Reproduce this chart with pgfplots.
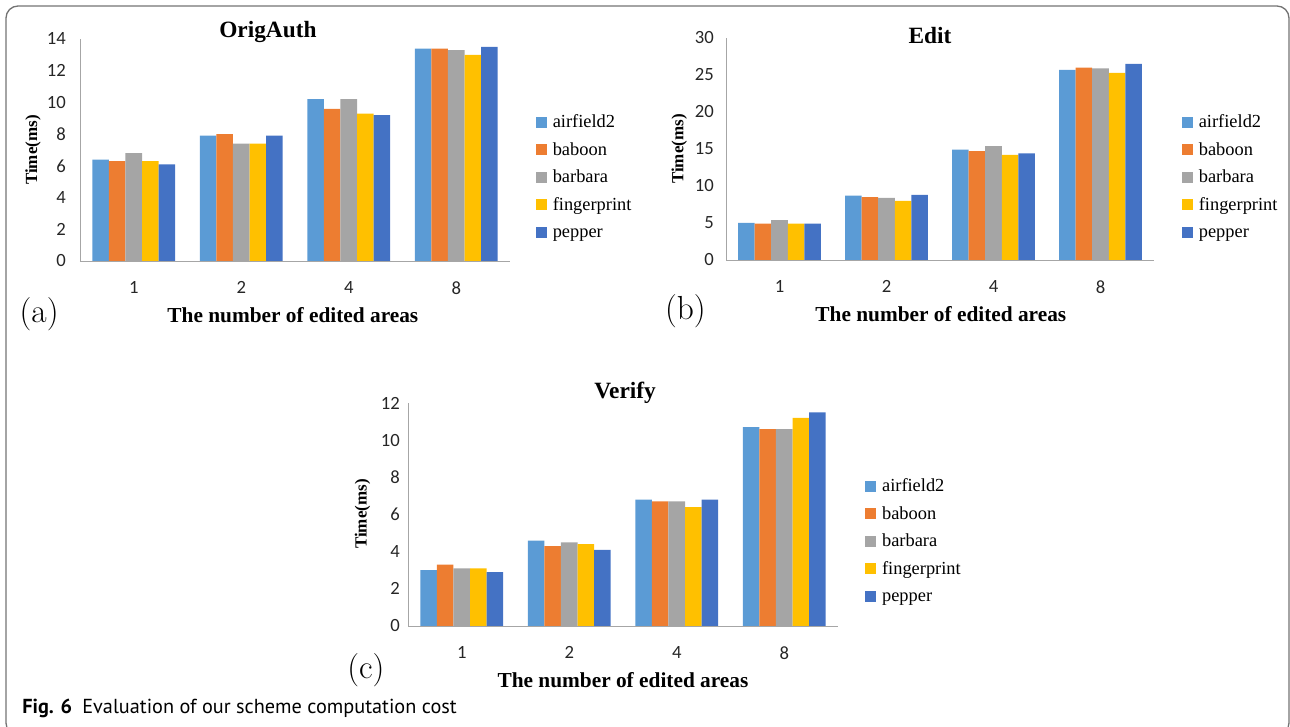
\documentclass[border=0pt]{standalone}
\usepackage{pgfplots}
\pgfplotsset{compat=1.18}
\usepackage{fontspec}
\setmainfont{Liberation Serif}
\newfontfamily\carlito{Carlito}
\newfontfamily\ptsans{PT Sans}
\newfontfamily\lmfont{Latin Modern Roman}
\definecolor{cA}{HTML}{5B9BD5}
\definecolor{cB}{HTML}{ED7D31}
\definecolor{cC}{HTML}{A5A5A5}
\definecolor{cD}{HTML}{FFC000}
\definecolor{cE}{HTML}{4472C4}
\pgfplotsset{
 every axis title shift=0pt,
 mybar/.style={
  scale only axis, ybar=0pt, bar width=12.4pt, clip=false,
  xmin=-0.5, xmax=3.5, ymin=0,
  xtick={0,1,2,3}, xticklabels={1,2,4,8},
  axis lines*=left, axis line style={-, draw=black!35, line width=0.6pt},
  major tick length=0pt,
  /pgf/number format/assume math mode=true,
  tick label style={font=\carlito\fontsize{14}{14}\selectfont, text=black!85},
  yticklabel style={inner sep=0pt, xshift=-9pt},
  xticklabel style={inner sep=0pt, yshift=-15pt},
  title style={font=\bfseries\fontsize{17.5}{17.5}\selectfont, anchor=base, inner sep=0pt},
  xlabel style={font=\bfseries\fontsize{16}{16}\selectfont, anchor=base, inner sep=0pt},
  ylabel style={font=\bfseries\fontsize{12.75}{12.75}\selectfont, anchor=center, inner sep=0pt},
  legend style={draw=none, fill=none, inner sep=0pt, outer sep=0pt, anchor=west, row sep=8.4pt,
    font=\fontsize{13.8}{13.8}\selectfont, nodes={inner sep=0pt, text height=9.7pt, text depth=2.5pt}},
  legend cell align=left,
  legend image code/.code={\fill[##1] (0pt,-3.5pt) rectangle (8.25pt,4.75pt); \path (12.75pt,0pt);},
  every axis plot/.append style={draw=none},
 }
}
\begin{document}
\begin{tikzpicture}
\useasboundingbox (0,0) rectangle (967.5pt,545.25pt);
\begin{scope}
\clip (0,0) rectangle (967.5pt,545.25pt);
\draw[rounded corners=9pt, black!55, line width=1pt] (4.5pt,-6pt) rectangle (966.75pt,540.75pt);
\end{scope}

% (a) OrigAuth
\begin{axis}[mybar, at={(60pt,349.5pt)}, anchor=south west, width=322.5pt, height=166.5pt,
  ymax=14, ytick={0,2,...,14}, yticklabel style={xshift=-1.5pt},
  title={OrigAuth}, title style={at={(axis description cs:0.437,1.0045)}},
  xlabel={The number of edited areas}, xlabel style={at={(axis description cs:0.495,-0.275)}},
  ylabel={Time(ms)}, ylabel style={at={(axis description cs:-0.109,0.5)}},
  legend style={at={(axis description cs:1.060,0.374)}}]
\addplot[fill=cA] coordinates {(0,6.4) (1,7.9) (2,10.2) (3,13.4)};
\addplot[fill=cB] coordinates {(0,6.3) (1,8.0) (2,9.6) (3,13.4)};
\addplot[fill=cC] coordinates {(0,6.8) (1,7.4) (2,10.2) (3,13.3)};
\addplot[fill=cD] coordinates {(0,6.3) (1,7.4) (2,9.3) (3,13.0)};
\addplot[fill=cE] coordinates {(0,6.1) (1,7.9) (2,9.2) (3,13.5)};
\legend{airfield2,baboon,barbara,fingerprint,pepper}
\node[font=\lmfont\fontsize{25}{25}\selectfont, inner sep=0pt] at (axis description cs:-0.095,-0.239) {(a)};
\end{axis}

% (b) Edit
\begin{axis}[mybar, at={(544.5pt,350.25pt)}, anchor=south west, width=321pt, height=166.5pt,
  ymax=30, ytick={0,5,...,30},
  title={Edit}, title style={at={(axis description cs:0.4766,0.977)}},
  xlabel={The number of edited areas}, xlabel style={at={(axis description cs:0.502,-0.275)}},
  ylabel={Time(ms)}, ylabel style={at={(axis description cs:-0.109,0.5)}},
  legend style={at={(axis description cs:1.065,0.369)}}]
\addplot[fill=cA] coordinates {(0,5.0) (1,8.7) (2,14.9) (3,25.7)};
\addplot[fill=cB] coordinates {(0,4.9) (1,8.5) (2,14.7) (3,26.0)};
\addplot[fill=cC] coordinates {(0,5.4) (1,8.4) (2,15.4) (3,25.9)};
\addplot[fill=cD] coordinates {(0,4.9) (1,8.0) (2,14.2) (3,25.3)};
\addplot[fill=cE] coordinates {(0,4.9) (1,8.8) (2,14.4) (3,26.5)};
\legend{airfield2,baboon,barbara,fingerprint,pepper}
\node[font=\lmfont\fontsize{25}{25}\selectfont, inner sep=0pt] at (axis description cs:-0.095,-0.23) {(b)};
\end{axis}

% (c) Verify
\begin{axis}[mybar, at={(306pt,75.75pt)}, anchor=south west, width=322.5pt, height=167.25pt,
  ymax=12, ytick={0,2,...,12}, yticklabel style={xshift=3pt},
  title={Verify}, title style={at={(axis description cs:0.505,1.02)}},
  xlabel={The number of edited areas}, xlabel style={at={(axis description cs:0.5,-0.274)}},
  ylabel={Time(ms)}, ylabel style={at={(axis description cs:-0.106,0.502)}},
  legend style={at={(axis description cs:1.063,0.377)}}]
\addplot[fill=cA] coordinates {(0,3.0) (1,4.6) (2,6.8) (3,10.7)};
\addplot[fill=cB] coordinates {(0,3.3) (1,4.3) (2,6.7) (3,10.6)};
\addplot[fill=cC] coordinates {(0,3.1) (1,4.5) (2,6.7) (3,10.6)};
\addplot[fill=cD] coordinates {(0,3.1) (1,4.4) (2,6.4) (3,11.2)};
\addplot[fill=cE] coordinates {(0,2.9) (1,4.1) (2,6.8) (3,11.5)};
\legend{airfield2,baboon,barbara,fingerprint,pepper}
\node[font=\lmfont\fontsize{25}{25}\selectfont, inner sep=0pt] at (axis description cs:-0.098,-0.197) {(c)};
\end{axis}

\node[anchor=base west, inner sep=0pt, font=\ptsans\fontsize{15.2}{15.2}\selectfont] at (16.5pt,9.75pt)
  {\textbf{Fig. 6}\hspace{0.5em}Evaluation of our scheme computation cost};
\end{tikzpicture}
\end{document}
